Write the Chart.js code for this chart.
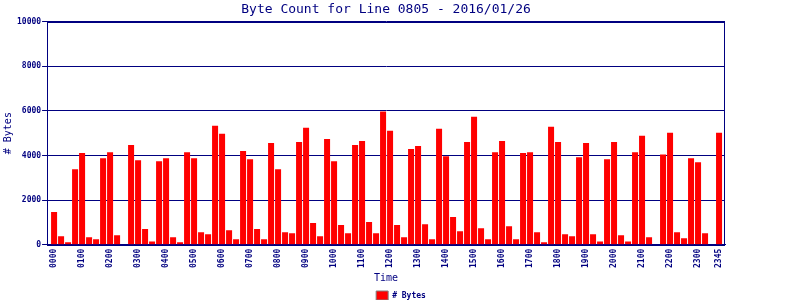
<!DOCTYPE html>
<html>
<head>
<meta charset="utf-8">
<script src="https://cdn.jsdelivr.net/npm/chart.js@4.4.1/dist/chart.umd.min.js"></script>
<style>
  body { margin: 0; background: #fff; }
  #wrap { width: 800px; height: 300px; }
</style>
</head>
<body>
<div id="wrap"><canvas id="mycanvas"></canvas></div>
<script>
// 15 minute buckets, 0000 .. 2345
var times = [];
for (var h = 0; h < 24; h++) {
  for (var m = 0; m < 60; m += 15) {
    times.push((h < 10 ? '0' : '') + h + (m < 10 ? '0' : '') + m);
  }
}

var bytes = [
  1470, 380, 106, 3380, 4106, 333, 242, 3880, 4150, 424, 0, 4470,
  3790, 700, 150, 3740, 3880, 333, 106, 4150, 3880, 560, 470, 5330,
  4970, 650, 242, 4200, 3830, 700, 242, 4560, 3380, 560, 515, 4600,
  5240, 970, 380, 4740, 3740, 880, 515, 4470, 4650, 1015, 515, 5970,
  5110, 880, 333, 4290, 4420, 920, 242, 5200, 3970, 1240, 606, 4600,
  5740, 740, 242, 4150, 4650, 830, 242, 4106, 4150, 560, 106, 5290,
  4600, 470, 380, 3920, 4560, 470, 150, 3830, 4600, 424, 150, 4150,
  4880, 333, 0, 4045, 5015, 560, 290, 3880, 3700, 515, 0, 5015
];

// which buckets get a label on the time axis
var xTickIdx = [];
for (var i = 0; i < times.length; i += 4) xTickIdx.push(i);
xTickIdx.push(times.length - 1);

var yTicks = [0, 2000, 4000, 6000, 8000, 10000];

var navy = '#000080';
var mono = 'DejaVu Sans Mono';

var points = bytes.map(function(v, i) { return { x: i, y: v }; });

var frame = {
  id: 'frame',
  afterDraw: function(chart) {
    var a = chart.chartArea, ctx = chart.ctx;
    ctx.save();
    ctx.strokeStyle = navy;
    ctx.lineWidth = 1;
    ctx.strokeRect(Math.round(a.left) + 0.5, Math.round(a.top) + 0.5,
      Math.round(a.right - a.left) - 1, Math.round(a.bottom - a.top));
    ctx.restore();
  }
};

var ctx = document.getElementById('mycanvas');
var barGraph = new Chart(ctx, {
  type: 'bar',
  data: {
    datasets: [{
      label: '# Bytes',
      backgroundColor: '#ff0000',
      borderWidth: 0,
      data: points,
      barPercentage: 0.86,
      categoryPercentage: 1.0
    }]
  },
  plugins: [frame],
  options: {
    responsive: true,
    maintainAspectRatio: false,
    animation: false,
    layout: { padding: { left: 2, right: 0, top: 0, bottom: -10 } },
    plugins: {
      title: {
        display: true,
        fullSize: false,
        text: 'Byte Count for Line 0805 - 2016/01/26',
        color: navy,
        font: { family: mono, size: 13, weight: 'normal' },
        padding: { top: 2, bottom: 4 }
      },
      legend: {
        position: 'bottom',
        labels: {
          color: navy,
          font: { family: mono, size: 8, weight: 'bold' },
          boxWidth: 12,
          boxHeight: 9,
          padding: 1,
          generateLabels: function(chart) {
            var items = Chart.defaults.plugins.legend.labels.generateLabels(chart);
            items.forEach(function(it) { it.strokeStyle = '#808080'; it.lineWidth = 1; });
            return items;
          }
        }
      },
      tooltip: { enabled: false }
    },
    scales: {
      x: {
        type: 'linear',
        min: -1,
        max: 95.85,
        offset: false,
        afterBuildTicks: function(axis) {
          axis.ticks = xTickIdx.map(function(v) { return { value: v }; });
        },
        grid: { display: false, drawTicks: false, tickLength: 0 },
        border: { color: navy, width: 1 },
        ticks: {
          autoSkip: false,
          maxRotation: 90,
          minRotation: 90,
          padding: 4,
          color: navy,
          font: { family: mono, size: 8, weight: 'bold' },
          callback: function(v) { return times[v]; }
        },
        title: {
          display: true,
          text: 'Time',
          color: navy,
          font: { family: mono, size: 10 },
          padding: { top: 0, bottom: 6 }
        }
      },
      y: {
        min: 0,
        max: 10000,
        afterBuildTicks: function(axis) {
          axis.ticks = yTicks.map(function(v) { return { value: v }; });
        },
        grid: { color: navy, lineWidth: 1, tickLength: 5 },
        border: { color: navy, width: 1 },
        ticks: {
          color: navy,
          padding: 1,
          font: { family: mono, size: 8, weight: 'bold' },
          callback: function(v) { return String(v); }
        },
        title: {
          display: true,
          text: '# Bytes',
          color: navy,
          font: { family: mono, size: 10 },
          padding: { top: 0, bottom: 2 }
        }
      },
      // empty right-hand strip, keeps the plot where the original has it
      side: {
        type: 'linear',
        position: 'right',
        ticks: { display: false },
        grid: { display: false },
        border: { display: false },
        afterFit: function(axis) { axis.width = 75; }
      }
    }
  }
});
</script>
</body>
</html>
